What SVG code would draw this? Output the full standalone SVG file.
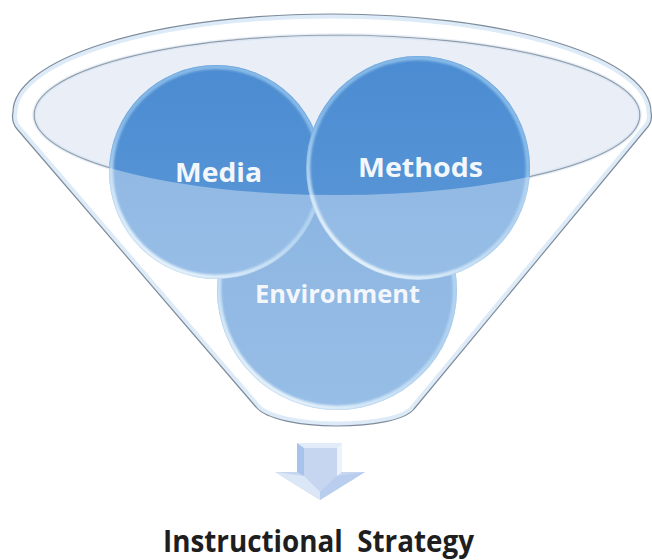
<svg xmlns="http://www.w3.org/2000/svg" width="652" height="560" viewBox="0 0 652 560">
  <defs>
    <style>
      .rim { fill: none; stroke: #7e8b99; stroke-width: 1.2; }
      .label { font-family: "Open Sans", "Liberation Sans", sans-serif; font-weight: 700; fill: #f3f7fc; text-anchor: middle; }
      .title { font-family: "Open Sans", "Liberation Sans", sans-serif; font-weight: 700; fill: #1e1e1e; text-anchor: middle; }
      .ball { fill: url(#ballFill); }
      .ballRim { fill: none; stroke: url(#rimGlow); stroke-width: 4.5; filter: url(#soft); }
    </style>
    <linearGradient id="ballFill" x1="0" y1="0" x2="0" y2="1">
      <stop offset="0" stop-color="#4b8bd1"/>
      <stop offset="1" stop-color="#5c99d8"/>
    </linearGradient>
    <!-- bevel light: soft blue at the top, bright near the bottom-left -->
    <linearGradient id="rimGlow" x1="0.8" y1="0" x2="0.2" y2="1">
      <stop offset="0" stop-color="#9ccbf1" stop-opacity="0.75"/>
      <stop offset="0.5" stop-color="#a8d4f4" stop-opacity="0.6"/>
      <stop offset="1" stop-color="#eaf6fd" stop-opacity="1"/>
    </linearGradient>
    <filter id="soft" x="-10%" y="-10%" width="120%" height="120%">
      <feGaussianBlur stdDeviation="0.9"/>
    </filter>
    <!-- funnel body outline: outer rim arc, sloping walls, rounded spout -->
    <path id="funnelShape" d="M 13,112 A 319 98 0 0 1 651,112 Q 653,122 646,129 L 414,409 C 396,432 276,432 256,407 L 17,129 Q 11,122 13,112 Z"/>
    <clipPath id="funnelClip"><use href="#funnelShape"/></clipPath>
    <clipPath id="clipMedia"><circle cx="216" cy="172" r="107"/></clipPath>
    <clipPath id="clipMethods"><circle cx="418" cy="168" r="112"/></clipPath>
    <clipPath id="clipEnv"><circle cx="337" cy="290" r="120"/></clipPath>
  </defs>

  <rect width="652" height="560" fill="#ffffff"/>

  <!-- funnel back: body and opening -->
  <g id="funnel-back">
    <use href="#funnelShape" fill="#ffffff"/>
    <ellipse cx="337" cy="115" rx="303" ry="80" fill="#e9eef7"/>
    <ellipse cx="337" cy="115" rx="303" ry="80" fill="none" stroke="#cfe0f2" stroke-width="4" opacity="0.6"/>
    <ellipse cx="337" cy="115" rx="303" ry="80" class="rim"/>
  </g>

  <!-- spheres -->
  <g id="environment">
    <circle cx="337" cy="290" r="120" class="ball"/>
    <g clip-path="url(#clipEnv)"><circle cx="337" cy="290" r="118" class="ballRim"/></g>
  </g>
  <g id="media">
    <circle cx="216" cy="172" r="107" class="ball"/>
    <g clip-path="url(#clipMedia)"><circle cx="216" cy="172" r="105" class="ballRim"/></g>
  </g>
  <g id="methods">
    <circle cx="418" cy="168" r="112" class="ball"/>
    <g clip-path="url(#clipMethods)"><circle cx="418" cy="168" r="110" class="ballRim"/></g>
  </g>

  <!-- funnel front wall: translucent, lightens whatever lies below the opening -->
  <g id="funnel-front">
    <path fill="#ffffff" fill-opacity="0.36" fill-rule="evenodd"
          d="M 13,112 A 319 98 0 0 1 651,112 Q 653,122 646,129 L 414,409 C 396,432 276,432 256,407 L 17,129 Q 11,122 13,112 Z
             M 34,115 A 303 80 0 0 0 640,115 A 303 80 0 0 0 34,115 Z"/>
    <g clip-path="url(#funnelClip)">
      <use href="#funnelShape" fill="none" stroke="#cfe1f4" stroke-width="9" opacity="0.7"/>
    </g>
    <use href="#funnelShape" class="rim"/>
  </g>

  <!-- labels -->
  <g id="labels">
    <text class="label" x="218.5" y="182" font-size="27" textLength="87" lengthAdjust="spacingAndGlyphs">Media</text>
    <text class="label" x="420.5" y="177" font-size="27" textLength="125" lengthAdjust="spacingAndGlyphs">Methods</text>
    <text class="label" x="337.5" y="303" font-size="24.5" textLength="165" lengthAdjust="spacingAndGlyphs">Environment</text>
  </g>

  <!-- output arrow -->
  <g id="arrow">
    <polygon points="297,443 342,443 342,472 365,472 320,500 275,472 297,472" fill="#c6d6f0"/>
    <polygon points="297,443 304,448 304,476 297,472" fill="#a7c3eb"/>
    <polygon points="297,443 342,443 337,448 304,448" fill="#e2ebf8"/>
    <polygon points="342,443 337,448 337,476 342,472" fill="#eef3fb"/>
    <polygon points="275,472 304,476 320,492 320,500" fill="#dbe6f6"/>
    <polygon points="365,472 337,476 320,492 320,500" fill="#b9cdee"/>
  </g>

  <g id="result">
    <text class="title" x="318.5" y="552" font-size="30" textLength="311" lengthAdjust="spacingAndGlyphs" xml:space="preserve">Instructional  Strategy</text>
  </g>
</svg>
